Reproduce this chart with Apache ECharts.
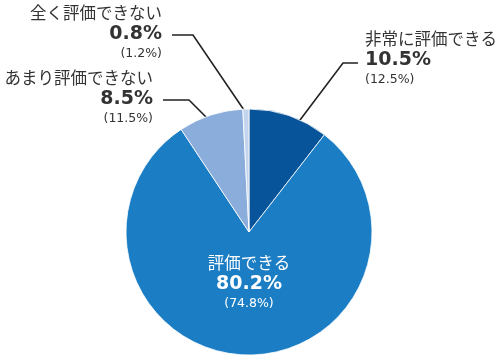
<!DOCTYPE html>
<html><head><meta charset="utf-8">
<script src="https://cdn.jsdelivr.net/npm/echarts@6/dist/echarts.min.js"></script>
<style>html,body{margin:0;padding:0;background:#fff}#c{width:500px;height:356px}</style>
</head><body><div id="c"></div>
<script>
const categories = ['非常に評価できる', '評価できる', 'あまり評価できない', '全く評価できない'];
const currentValues = [10.5, 80.2, 8.5, 0.8];
const previousValues = [12.5, 74.8, 11.5, 1.2];
const colors = ['#08549a', '#1b7ec4', '#8aaddb', '#c3d5ee'];

const labelPos = [
  {x: 365, y: 58, align: 'left', line: [[297,124],[343,63],[358,63]]},
  {x: 249, y: 282, align: 'center', line: null},
  {x: 153, y: 97, align: 'right', line: [[208,119],[189,100],[163,100]]},
  {x: 162, y: 32, align: 'right', line: [[246,113],[193,35],[172,35]]}
];

const chart = echarts.init(document.getElementById('c'), null, {renderer: 'canvas'});
const jp = '"Noto Sans CJK JP", "DejaVu Sans", sans-serif';
const num = 'Verdana, "DejaVu Sans", sans-serif';
chart.setOption({
  animation: false,
  series: [{
    type: 'pie',
    center: [249, 232],
    radius: [0, 123],
    startAngle: 90,
    clockwise: true,
    itemStyle: {borderColor: '#ffffff', borderWidth: 0.8},
    data: categories.map((c, i) => ({
      name: c,
      value: currentValues[i],
      itemStyle: {color: colors[i]},
      label: i === 1 ? {color: '#ffffff', rich: {
        n: {fontFamily: jp, fontSize: 16.5, color: '#fff', lineHeight: 21, align: 'center'},
        p: {fontFamily: num, fontSize: 19, fontWeight: 'bold', color: '#fff', lineHeight: 22, align: 'center'},
        q: {fontFamily: num, fontSize: 12.5, color: '#fff', lineHeight: 16, align: 'center'}
      }} : {}
    })),
    label: {
      show: true,
      position: 'outside',
      overflow: 'none',
      width: 200,
      formatter: p => '{n|' + p.name + '}\n{p|' + currentValues[p.dataIndex].toFixed(1) + '%}\n{q|(' + previousValues[p.dataIndex].toFixed(1) + '%)}',
      rich: {
        n: {fontFamily: jp, fontSize: 16.5, color: '#333', lineHeight: 21},
        p: {fontFamily: num, fontSize: 19, fontWeight: 'bold', color: '#333', lineHeight: 22},
        q: {fontFamily: num, fontSize: 12.5, color: '#333', lineHeight: 16}
      }
    },
    labelLine: {show: true, lineStyle: {color: '#222', width: 1.6}},
    labelLayout: function (params) {
      const lp = labelPos[params.dataIndex];
      const o = {x: lp.x, y: lp.y, align: lp.align, verticalAlign: 'middle'};
      if (lp.line) o.labelLinePoints = lp.line;
      return o;
    }
  }]
});
</script></body></html>
